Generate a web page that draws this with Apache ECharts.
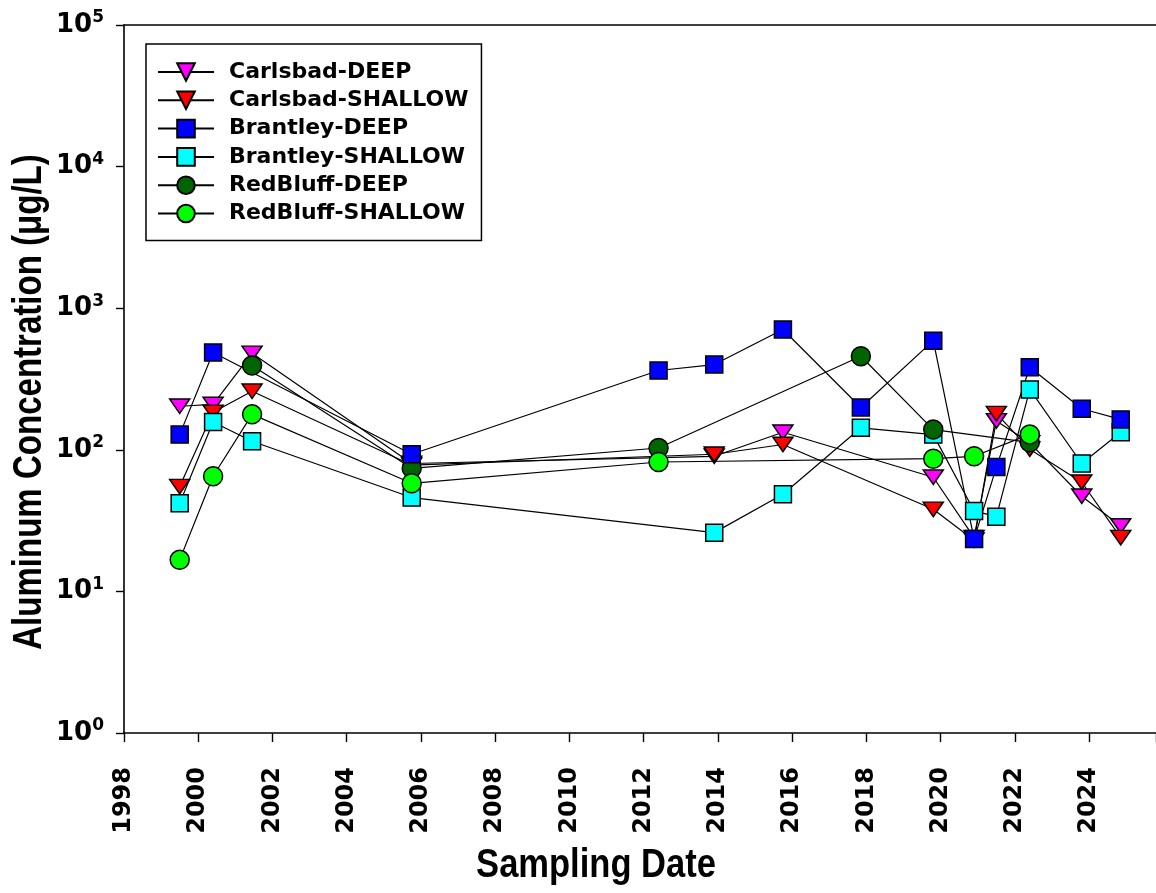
<!DOCTYPE html>
<html>
<head>
<meta charset="utf-8">
<script src="https://cdn.jsdelivr.net/npm/echarts@6/dist/echarts.min.js"></script>
<style>
html,body{margin:0;padding:0;background:#fff;}
#chart{width:1156px;height:893px;}
</style>
</head>
<body>
<div id="chart"></div>
<script>
// Sampling dates (decimal years)
const sampleDates = [1999.5, 2000.4, 2001.45, 2005.75, 2012.4, 2013.9, 2015.75, 2017.85, 2019.8, 2020.9, 2021.5, 2022.4, 2023.8, 2024.85];
// Aluminum concentration (µg/L); null = not sampled
const carlsbadDeep    = [203, 209, 480, 80, null, 90, 133, null, 64, 24, 160, 112, 47, 29];
const carlsbadShallow = [55, 184, 259, 78, null, 93, 109, null, 38, 23, 180, 101, 59, 24];
const brantleyDeep    = [128, 486, null, 93, 363, 400, 707, 199, 590, 23.4, 75.5, 383, 195, 164];
const brantleyShallow = [42, 157, 115, 46, null, 26, 48.5, 143, 128, 37, 33.7, 267, 80, 133];
const redBluffDeep    = [null, null, 394, 74, 103, null, null, 458, 139, null, null, 113, null, null];
const redBluffShallow = [16.7, 65, 178, 58, 82, null, null, null, 86.5, 90, null, 128.5, null, null];
const seriesNames = ['Carlsbad-DEEP', 'Carlsbad-SHALLOW', 'Brantley-DEEP', 'Brantley-SHALLOW', 'RedBluff-DEEP', 'RedBluff-SHALLOW'];
const yTickExponents = [0, 1, 2, 3, 4, 5];
const xTickYears = [1998, 2000, 2002, 2004, 2006, 2008, 2010, 2012, 2014, 2016, 2018, 2020, 2022, 2024];

function pairs(vals) {
  const out = [];
  vals.forEach((v, i) => { if (v !== null) out.push([sampleDates[i], v]); });
  return out;
}
const downTri = 'path://M0,0 L20,0 L10,17 Z';
function mk(name, vals, symbol, color, size) {
  return {
    name: name, type: 'line', data: pairs(vals),
    symbol: symbol, symbolSize: size, symbolKeepAspect: true,
    showSymbol: true,
    lineStyle: { color: '#000', width: 1.2 },
    itemStyle: { color: color, borderColor: '#000', borderWidth: 1.5, opacity: 1 },
    emphasis: { disabled: true },
    animation: false
  };
}
const series = [
  mk('Carlsbad-DEEP', carlsbadDeep, downTri, '#ff00ff', [20, 17]),
  mk('Carlsbad-SHALLOW', carlsbadShallow, downTri, '#ff0000', [20, 17]),
  mk('Brantley-SHALLOW', brantleyShallow, 'rect', '#00ffff', 17),
  mk('RedBluff-DEEP', redBluffDeep, 'circle', '#006400', 19),
  mk('RedBluff-SHALLOW', redBluffShallow, 'circle', '#00ff00', 19),
  mk('Brantley-DEEP', brantleyDeep, 'rect', '#0000ff', 17)
];

const chart = echarts.init(document.getElementById('chart'), null, { renderer: 'canvas' });
const option = {
  animation: false,
  backgroundColor: '#fff',
  grid: { left: 124, top: 25, right: 0, bottom: 160, containLabel: false },
  legend: {
    data: seriesNames,
    orient: 'vertical',
    left: 146, top: 44,
    padding: [17, 13, 16, 11],
    itemGap: 6.3,
    itemWidth: 56, itemHeight: 22,
    backgroundColor: '#fff',
    borderColor: '#000', borderWidth: 1.5, borderRadius: 0,
    selectedMode: false,
    textStyle: { fontFamily: 'DejaVu Sans', fontWeight: 'bold', fontSize: 22, color: '#000', lineHeight: 22, padding: [0, 0, 0, 10] }
  },
  xAxis: [{
    type: 'value', min: 1998, max: 2025.8, interval: 2,
    axisLine: { show: true, onZero: false, lineStyle: { color: '#000', width: 1.6 } },
    axisTick: { show: true, inside: false, length: 9, lineStyle: { color: '#000', width: 1.4 } },
    splitLine: { show: false },
    axisLabel: {
      rotate: 90, margin: 34,
      fontFamily: 'DejaVu Sans', fontWeight: 'bold', fontSize: 24, color: '#000',
      formatter: function (v) { return xTickYears.indexOf(v) >= 0 ? String(v) : ''; }
    }
  }, {
    type: 'value', position: 'top', min: 1998, max: 2025.8,
    axisLine: { show: true, onZero: false, lineStyle: { color: '#000', width: 1.6 } },
    axisTick: { show: false }, axisLabel: { show: false }, splitLine: { show: false }
  }],
  yAxis: {
    type: 'log', logBase: 10, min: 1, max: 100000,
    axisLine: { show: true, onZero: false, lineStyle: { color: '#000', width: 1.6 } },
    axisTick: { show: true, inside: false, length: 8, lineStyle: { color: '#000', width: 1.4 } },
    minorTick: { show: false },
    splitLine: { show: false },
    axisLabel: {
      margin: 20,
      formatter: function (v) {
        const e = Math.round(Math.log10(v));
        return yTickExponents.indexOf(e) >= 0 ? '{b|10}{s|' + e + '}' : '';
      },
      rich: {
        b: { fontFamily: 'DejaVu Sans', fontWeight: 'bold', fontSize: 26, color: '#000' },
        s: { fontFamily: 'DejaVu Sans', fontWeight: 'bold', fontSize: 17, color: '#000', padding: [0, 0, 14, 0] }
      }
    }
  },
  graphic: [
    { type: 'text', x: 30, y: 402, rotation: Math.PI / 2, scaleX: 0.826,
      style: { text: 'Aluminum Concentration (μg/L)', font: 'bold 40px "Liberation Sans", Arial, sans-serif', fill: '#000', align: 'center', verticalAlign: 'middle' } },
    { type: 'text', x: 596, y: 866, scaleX: 0.863,
      style: { text: 'Sampling Date', font: 'bold 40px "Liberation Sans", Arial, sans-serif', fill: '#000', align: 'center', verticalAlign: 'middle' } }
  ],
  series: series
};
chart.setOption(option);
</script>
</body>
</html>
